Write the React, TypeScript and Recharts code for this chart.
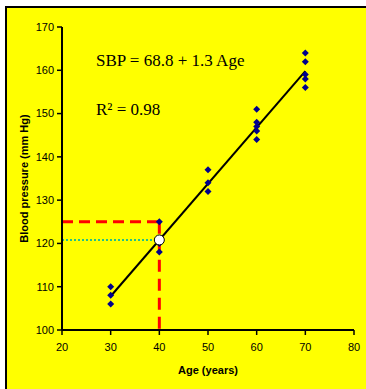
import { ScatterChart, Scatter, XAxis, YAxis, ReferenceLine, ReferenceDot } from "recharts";

// observed blood pressure readings by age group
const ages30 = [106, 108, 110];
const ages40 = [118, 120, 125];
const ages50 = [132, 134, 137];
const ages60 = [144, 146, 147, 148, 151];
const ages70 = [156, 158, 159, 162, 164];

const groups: [number, number[]][] = [
  [30, ages30],
  [40, ages40],
  [50, ages50],
  [60, ages60],
  [70, ages70],
];

const xTicks = [20, 30, 40, 50, 60, 70, 80];
const yTicks = [100, 110, 120, 130, 140, 150, 160, 170];

const intercept = 68.8;
const slope = 1.3;
const fitAges = [30, 70];
const exampleAge = 40;
const readValue = 125;

const points = groups.flatMap(([age, vals]) => vals.map((bp) => ({ age, bp })));
const fitLine = fitAges.map((a) => ({ x: a, y: intercept + slope * a }));
const predicted = intercept + slope * exampleAge;

const font = "'Liberation Sans', Arial, sans-serif";

const Diamond = (props: any) => {
  const { cx, cy } = props;
  const r = 3.5;
  return (
    <path
      d={`M${cx},${cy - r}L${cx + r},${cy}L${cx},${cy + r}L${cx - r},${cy}Z`}
      fill="#00008B"
    />
  );
};

export default function App() {
  return (
    <div style={{ position: "absolute", left: 0, top: 0, width: 366, height: 389 }}>
      <div
        style={{
          position: "absolute",
          left: 5,
          top: 6,
          width: 361,
          height: 383,
          background: "#FFFF00",
          borderLeft: "2px solid #000",
          borderTop: "2px solid #000",
          boxSizing: "border-box",
        }}
      />
      <div style={{ position: "absolute", left: 0, top: 0 }}>
        <ScatterChart width={366} height={389} margin={{ top: 27, right: 12, bottom: 19, left: 0 }}>
          <XAxis
            type="number"
            dataKey="age"
            domain={[20, 80]}
            ticks={xTicks}
            height={40}
            axisLine={{ stroke: "#000", strokeWidth: 2 }}
            tickLine={{ stroke: "#000", strokeWidth: 1.5 }}
            tickSize={5}
            tickMargin={8}
            tick={{ fill: "#000", fontSize: 11, fontFamily: font }}
            label={{
              value: "Age (years)",
              position: "insideBottom",
              offset: -4,
              style: { fill: "#000", fontSize: 11, fontWeight: "bold", fontFamily: font },
            }}
          />
          <YAxis
            type="number"
            dataKey="bp"
            domain={[100, 170]}
            ticks={yTicks}
            width={62}
            axisLine={{ stroke: "#000", strokeWidth: 2 }}
            tickLine={{ stroke: "#000", strokeWidth: 1.5 }}
            tickSize={5}
            tickMargin={3}
            tick={{ fill: "#000", fontSize: 11, fontFamily: font }}
            label={{
              value: "Blood pressure (mm Hg)",
              angle: -90,
              position: "insideLeft",
              offset: 0,
              content: (p: any) => {
                const vb = p.viewBox;
                const cx = vb.x + 24;
                const cy = vb.y + vb.height / 2;
                return (
                  <text
                    x={cx}
                    y={cy}
                    transform={`rotate(-90 ${cx} ${cy})`}
                    textAnchor="middle"
                    dominantBaseline="central"
                    fill="#000"
                    fontSize={11}
                    fontWeight="bold"
                    fontFamily={font}
                  >
                    Blood pressure (mm Hg)
                  </text>
                );
              },
            }}
          />
          <ReferenceLine
            segment={[{ x: 20, y: predicted }, { x: exampleAge, y: predicted }]}
            stroke="#22C08A"
            strokeWidth={2}
            strokeDasharray="2 2"
            ifOverflow="visible"
          />
          <ReferenceLine
            segment={[{ x: 20, y: readValue }, { x: exampleAge, y: readValue }]}
            stroke="#FF0000"
            strokeWidth={3}
            strokeDasharray="11 6"
            ifOverflow="visible"
          />
          <ReferenceLine
            segment={[{ x: exampleAge, y: readValue }, { x: exampleAge, y: 100 }]}
            stroke="#FF0000"
            strokeWidth={3}
            strokeDasharray="12 7"
            ifOverflow="visible"
          />
          <Scatter data={points} shape={<Diamond />} isAnimationActive={false} />
          <ReferenceLine
            segment={fitLine}
            stroke="#000"
            strokeWidth={2}
            ifOverflow="visible"
          />
          <ReferenceDot
            x={exampleAge}
            y={predicted}
            r={5}
            fill="#fff"
            stroke="#000"
            strokeWidth={1}
            ifOverflow="visible"
          />
        </ScatterChart>
      </div>
      <svg
        width={366}
        height={389}
        style={{ position: "absolute", left: 0, top: 0, pointerEvents: "none" }}
      >
        <text x={96} y={66} fontSize={17} fontFamily="'Liberation Serif', 'Times New Roman', serif" fill="#000">
          SBP = 68.8 + 1.3 Age
        </text>
        <text x={96} y={115} fontSize={17} fontFamily="'Liberation Serif', 'Times New Roman', serif" fill="#000">
          R² = 0.98
        </text>
      </svg>
    </div>
  );
}
